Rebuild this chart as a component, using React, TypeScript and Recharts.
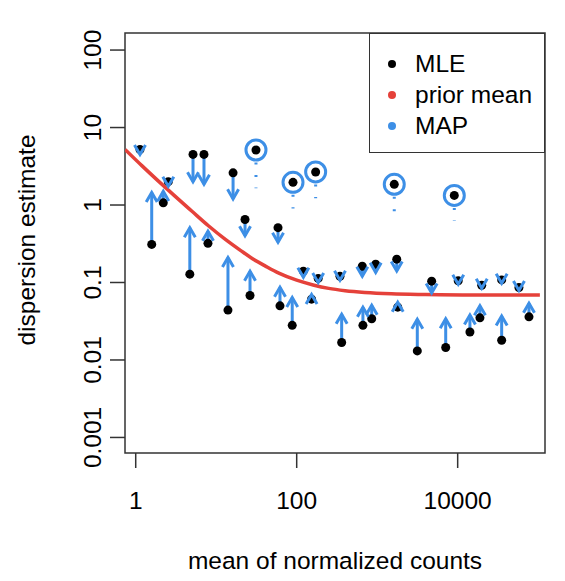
import React from 'react';
import {
  ComposedChart,
  Scatter,
  Line,
  XAxis,
  YAxis,
  ReferenceLine,
  ReferenceDot,
  ReferenceArea,
  Label,
} from 'recharts';

// genes: mean of normalized counts, MLE and MAP dispersion
const geneMeans = [
  1.13, 1.58, 2.2, 2.54, 4.7, 5.15, 7.05, 7.9, 14, 16.2, 22.8, 26.3, 58.6, 62,
  88, 121, 153, 185, 345, 362, 653, 665, 855, 958, 1750, 1800, 3150, 4750, 7100,
  10160, 14200, 18900, 19900, 35200, 35200, 57700, 76900,
];
const mleValues = [
  5.2, 0.31, 1.07, 2.0, 0.128, 4.5, 4.5, 0.32, 0.044, 2.6, 0.65, 0.068, 0.51,
  0.05, 0.028, 0.14, 0.061, 0.113, 0.12, 0.0168, 0.162, 0.028, 0.034, 0.172,
  0.2, 0.048, 0.0131, 0.104, 0.0145, 0.105, 0.023, 0.035, 0.092, 0.108, 0.018,
  0.086, 0.036,
];
const mapValues = [
  4.5, 1.45, 1.5, 1.75, 0.51, 2.0, 1.85, 0.46, 0.21, 1.2, 0.4, 0.14, 0.33,
  0.087, 0.064, 0.117, 0.07, 0.1, 0.107, 0.039, 0.12, 0.048, 0.051, 0.135,
  0.141, 0.0555, 0.0335, 0.073, 0.034, 0.095, 0.038, 0.05, 0.084, 0.098, 0.037,
  0.079, 0.054,
];

// dispersion outliers (MLE kept)
const outlierMeans = [31.2, 90, 172, 1630, 9080];
const outlierMle = [5.13, 1.96, 2.67, 1.85, 1.33];
const outlierMap = [1.64, 0.9, 1.22, 0.83, 0.62];

// fitted prior mean trend
const trendMeans = [
  0.74, 1.2, 1.9, 3, 5, 8, 13, 20, 30, 40, 60, 100, 160, 250, 400, 700, 1500,
  4000, 15000, 105000,
];
const trendValues = [
  5.2, 3.2, 2.05, 1.33, 0.83, 0.54, 0.36, 0.26, 0.195, 0.165, 0.132, 0.107,
  0.093, 0.084, 0.0785, 0.0745, 0.0715, 0.07, 0.069, 0.069,
];

const xTicks = [1, 100, 10000];
const yTicks = [0.001, 0.01, 0.1, 1, 10, 100];
const xDomain = [0.736, 121600];
const yDomain = [0.00063, 166];

const BLUE = '#3D8FE6';
const RED = '#E5413A';
const FONT = '"Liberation Sans", Arial, Helvetica, sans-serif';
const FS = 24.5;

const mleData = geneMeans.map((m, i) => ({ mean: m, value: mleValues[i] }));
const mapData = geneMeans.map((m, i) => ({ mean: m, value: mapValues[i], up: mapValues[i] > mleValues[i] }));
const trendData = trendMeans.map((m, i) => ({ mean: m, value: trendValues[i] }));

const ArrowHead = (p: any) => {
  const { cx, cy, payload } = p;
  const h = 11;
  const sx = h * Math.sin(Math.PI / 6);
  const sy = h * Math.cos(Math.PI / 6) * (payload.up ? 1 : -1);
  return (
    <polyline
      points={`${cx - sx},${cy + sy} ${cx},${cy} ${cx + sx},${cy + sy}`}
      fill="none"
      stroke={BLUE}
      strokeWidth={3}
    />
  );
};

const XTick = ({ x, y, payload }: any) => (
  <text x={x} y={y + 32} textAnchor="middle" dominantBaseline="central"
    fontSize={FS} fontFamily={FONT} fill="#000">
    {String(payload.value)}
  </text>
);

const YTick = ({ x, y, payload }: any) => (
  <text x={x - 17} y={y} textAnchor="middle" dominantBaseline="central"
    fontSize={FS} fontFamily={FONT} fill="#000"
    transform={`rotate(-90, ${x - 17}, ${y})`}>
    {String(payload.value)}
  </text>
);

const legendItems = [
  { label: 'MLE', color: '#000' },
  { label: 'prior mean', color: RED },
  { label: 'MAP', color: BLUE },
];

export default function App() {
  return (
    <div style={{ position: 'absolute', left: 0, top: 0, width: 565, height: 581, background: '#fff', fontFamily: FONT }}>
      <ComposedChart width={565} height={581} margin={{ top: 33, right: 20, bottom: 28, left: 15 }}>
        <XAxis
          dataKey="mean"
          type="number"
          scale="log"
          domain={xDomain}
          allowDataOverflow
          ticks={xTicks}
          tickSize={15}
          tickMargin={0}
          height={100}
          axisLine={false}
          tickLine={{ stroke: '#333', strokeWidth: 1.5 }}
          tick={<XTick />}
        >
          <Label
            content={({ viewBox }: any) => (
              <text x={viewBox.x + viewBox.width / 2} y={viewBox.y + 107} textAnchor="middle"
                dominantBaseline="central" fontSize={FS} fontFamily={FONT} fill="#000">
                mean of normalized counts
              </text>
            )}
          />
        </XAxis>
        <YAxis
          type="number"
          scale="log"
          domain={yDomain}
          allowDataOverflow
          ticks={yTicks}
          tickSize={15}
          tickMargin={0}
          width={110}
          axisLine={false}
          tickLine={{ stroke: '#333', strokeWidth: 1.5 }}
          tick={<YTick />}
        >
          <Label
            content={({ viewBox }: any) => {
              const cx = viewBox.x + 11;
              const cy = viewBox.y + viewBox.height / 2 - 3;
              return (
                <text x={cx} y={cy} textAnchor="middle" dominantBaseline="central"
                  fontSize={FS} fontFamily={FONT} fill="#000"
                  transform={`rotate(-90, ${cx}, ${cy})`}>
                  dispersion estimate
                </text>
              );
            }}
          />
        </YAxis>
        <ReferenceArea
          x1={xDomain[0]}
          x2={xDomain[1]}
          y1={yDomain[0]}
          y2={yDomain[1]}
          fill="none"
          stroke="#333"
          strokeWidth={1.5}
          ifOverflow="visible"
        />
        {geneMeans.map((m, i) => (
          <ReferenceLine
            key={`a${i}`}
            segment={[{ x: m, y: mleValues[i] }, { x: m, y: mapValues[i] }]}
            stroke={BLUE}
            strokeWidth={3}
          />
        ))}
        {outlierMeans.map((m, i) => (
          <ReferenceLine
            key={`d${i}`}
            segment={[{ x: m, y: outlierMle[i] }, { x: m, y: outlierMap[i] }]}
            stroke={BLUE}
            strokeWidth={3}
            strokeDasharray="2 10.5"
          />
        ))}
        {outlierMeans.map((m, i) => (
          <ReferenceDot key={`o${i}`} x={m} y={outlierMle[i]} r={10} fill="none" stroke={BLUE} strokeWidth={3} />
        ))}
        {outlierMeans.map((m, i) => (
          <ReferenceDot key={`k${i}`} x={m} y={outlierMle[i]} r={4.5} fill="#000" stroke="none" />
        ))}
        <Scatter
          data={mleData}
          dataKey="value"
          isAnimationActive={false}
          shape={(p: any) => <circle cx={p.cx} cy={p.cy} r={4.5} fill="#000" />}
        />
        <Scatter
          data={mapData}
          dataKey="value"
          isAnimationActive={false}
          shape={ArrowHead}
        />
        <Line
          data={trendData}
          dataKey="value"
          type="monotone"
          stroke={RED}
          strokeWidth={3.5}
          dot={false}
          isAnimationActive={false}
        />
      </ComposedChart>
      <div
        style={{
          position: 'absolute',
          left: 369,
          top: 33,
          width: 176,
          height: 120,
          border: '1.5px solid #333',
          boxSizing: 'border-box',
          background: '#fff',
        }}
      >
        {legendItems.map((it, i) => (
          <div key={it.label} style={{ position: 'absolute', left: 0, top: 30 + i * 31 - 15, height: 30, width: 170 }}>
            <span
              style={{
                position: 'absolute',
                left: 18,
                top: 11,
                width: 8,
                height: 8,
                borderRadius: 4,
                background: it.color,
              }}
            />
            <span style={{ position: 'absolute', left: 45, top: 0, lineHeight: '30px', fontSize: FS, color: '#000' }}>
              {it.label}
            </span>
          </div>
        ))}
      </div>
    </div>
  );
}
